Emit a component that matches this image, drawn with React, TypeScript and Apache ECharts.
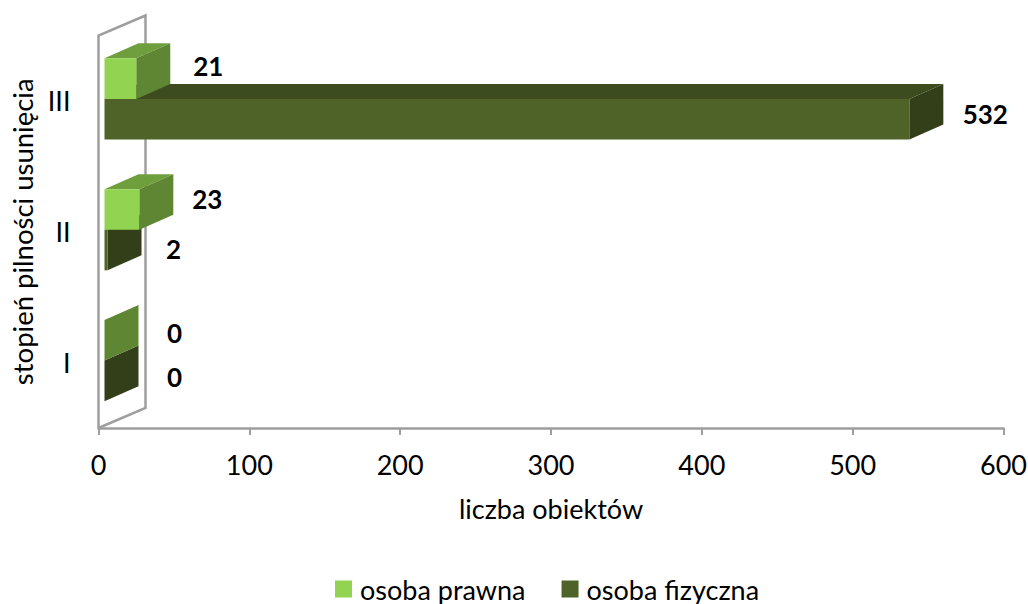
import React, { useEffect, useRef } from "react";
import * as echarts from "echarts";

const categories = ["I", "II", "III"];
const xTicks = { min: 0, max: 600, interval: 100 };
const seriesLegal = [0, 23, 21];
const seriesPrivate = [0, 2, 532];
const nameLegal = "osoba prawna";
const nameprivate = "osoba fizyczna";

const FONT = "Lato";
const GREY = "#9e9e9e";
const DX = 34;
const DY = -15;
const WALL_DX = 47;
const WALL_DY = -20;
const INSET = 6;
const STRETCH = 1.003;
const HALF_BAND = 0.31;
const LIFT = -2;

const legalColors = { front: "#92d451", top: "#6f9f3c", side: "#5f8733" };
const privateColors = { front: "#4f6228", top: "#3d4c1e", side: "#333f18" };

// label nudges from the bar's back-right corner, by category index
const legalNudge = [[36, -7], [34, -10], [38, -13]];
const privateNudge = [[36, -4], [32, -1], [42, -5]];

function barRenderer(colors: any, upper: boolean, nudge: number[][]) {
  return (params: any, api: any) => {
    const v = api.value(0);
    const idx = api.value(1);
    const zero = api.coord([0, idx]);
    const end = api.coord([v, idx]);
    const band = api.size([0, 1])[1] * HALF_BAND;
    const x0 = zero[0] + INSET;
    const x1 = x0 + (end[0] - zero[0]) * STRETCH;
    const mid = zero[1] + LIFT;
    const yT = upper ? mid - band : mid;
    const yB = upper ? mid : mid + band;
    const poly = (points: number[][], fill: string) => ({
      type: "polygon",
      shape: { points },
      style: { fill },
      silent: true,
    });
    const [nx, ny] = nudge[idx];
    return {
      type: "group",
      children: [
        poly([[x0, yT], [x1, yT], [x1 + DX, yT + DY], [x0 + DX, yT + DY]], colors.top),
        poly([[x1, yT], [x1 + DX, yT + DY], [x1 + DX, yB + DY], [x1, yB]], colors.side),
        poly([[x0, yT], [x1, yT], [x1, yB], [x0, yB]], colors.front),
        {
          type: "text",
          silent: true,
          style: {
            text: String(v),
            x: x1 + DX + nx,
            y: (yT + yB) / 2 + ny,
            fill: "#000",
            font: `bold 26px ${FONT}`,
            textAlign: "center",
            textVerticalAlign: "middle",
          },
        },
      ],
    };
  };
}

function wallRenderer(params: any) {
  const cs = params.coordSys;
  const x = cs.x;
  const yTop = cs.y;
  const yBot = cs.y + cs.height;
  return {
    type: "polyline",
    silent: true,
    shape: {
      points: [
        [x, yBot],
        [x, yTop],
        [x + WALL_DX, yTop + WALL_DY],
        [x + WALL_DX, yBot + WALL_DY],
        [x, yBot],
      ],
    },
    style: { stroke: GREY, lineWidth: 2.5, fill: "none" },
  };
}

export default function App() {
  const ref = useRef<HTMLDivElement>(null);
  useEffect(() => {
    const chart = echarts.init(ref.current!, undefined, { renderer: "svg" });
    chart.setOption({
      animation: false,
      backgroundColor: "#fff",
      textStyle: { fontFamily: FONT },
      grid: { left: 98.5, right: 24.5, top: 35.5, bottom: 176, containLabel: false, outerBoundsMode: "none" },
      legend: {
        data: [nameLegal, nameprivate],
        left: 335,
        top: 575.5,
        padding: 0,
        itemWidth: 17,
        itemHeight: 17,
        itemGap: 36,
        icon: "rect",
        selectedMode: false,
        textStyle: { fontFamily: FONT, fontSize: 27, color: "#000", padding: [0, 0, 0, 3] },
      },
      xAxis: {
        type: "value",
        min: xTicks.min,
        max: xTicks.max,
        interval: xTicks.interval,
        name: "liczba obiektów",
        nameLocation: "middle",
        nameGap: 67,
        nameTextStyle: { fontFamily: FONT, fontSize: 27, color: "#000" },
        axisLine: { show: true, lineStyle: { color: GREY, width: 2.5 } },
        axisTick: { show: true, length: 7, lineStyle: { color: GREY, width: 2 } },
        axisLabel: { fontFamily: FONT, fontSize: 27, color: "#000", margin: 23, showMinLabel: true, showMaxLabel: true },
        splitLine: { show: false },
      },
      yAxis: {
        type: "category",
        data: categories,
        name: "stopień pilności usunięcia",
        nameLocation: "middle",
        nameGap: 62,
        nameTextStyle: { fontFamily: FONT, fontSize: 27.5, color: "#000" },
        axisLine: { show: false },
        axisTick: { show: false },
        axisLabel: { fontFamily: FONT, fontSize: 27, color: "#000", margin: 28 },
        splitLine: { show: false },
      },
      series: [
        {
          type: "custom",
          name: "wall",
          renderItem: wallRenderer,
          data: [[0, 0]],
          encode: { x: 0, y: 1 },
          silent: true,
          clip: false,
          z: 1,
        },
        {
          type: "custom",
          name: nameprivate,
          renderItem: barRenderer(privateColors, false, privateNudge),
          data: seriesPrivate.map((v, i) => [v, i]),
          encode: { x: 0, y: 1 },
          itemStyle: { color: privateColors.front },
          silent: true,
          clip: false,
          z: 2,
        },
        {
          type: "custom",
          name: nameLegal,
          renderItem: barRenderer(legalColors, true, legalNudge),
          data: seriesLegal.map((v, i) => [v, i]),
          encode: { x: 0, y: 1 },
          itemStyle: { color: legalColors.front },
          silent: true,
          clip: false,
          z: 3,
        },
      ],
    });
    return () => chart.dispose();
  }, []);
  return <div ref={ref} style={{ position: "fixed", left: 0, top: 0, width: 1028, height: 604 }} />;
}
